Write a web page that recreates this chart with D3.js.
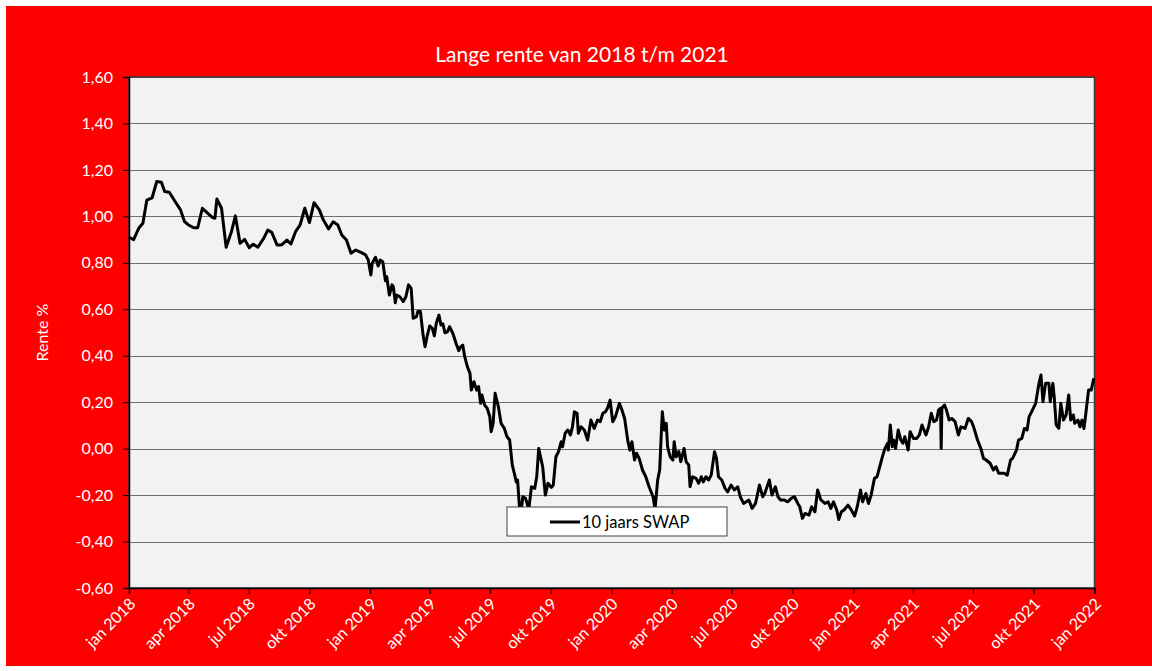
<!DOCTYPE html>
<html>
<head>
    <title>Lange rente van 2018 t/m 2021</title>
    <script src="https://d3js.org/d3.v7.min.js"></script>
    <style>
        body { margin: 0; background: #fff; }
        text { font-family: Lato, "Open Sans", sans-serif; }
    </style>
</head>
<body>
    <svg id="chart"></svg>

    <script>
        // 10 jaars SWAP, [datum, rente %]
        const swap2018 = [
            ["2018-01-01", 0.91], ["2018-01-08", 0.90], ["2018-01-16", 0.95], ["2018-01-22", 0.97],
            ["2018-01-28", 1.07], ["2018-02-05", 1.08], ["2018-02-12", 1.15], ["2018-02-19", 1.147],
            ["2018-02-24", 1.107], ["2018-03-03", 1.104], ["2018-03-12", 1.063], ["2018-03-20", 1.028],
            ["2018-03-26", 0.977], ["2018-04-01", 0.963], ["2018-04-09", 0.951], ["2018-04-15", 0.951],
            ["2018-04-22", 1.035], ["2018-04-29", 1.016], ["2018-05-07", 0.996], ["2018-05-11", 0.992],
            ["2018-05-14", 1.075], ["2018-05-21", 1.035], ["2018-05-28", 0.867], ["2018-06-05", 0.934],
            ["2018-06-11", 1.002], ["2018-06-18", 0.884], ["2018-06-25", 0.901], ["2018-07-02", 0.865],
            ["2018-07-08", 0.880], ["2018-07-15", 0.867], ["2018-07-24", 0.906], ["2018-07-30", 0.941],
            ["2018-08-05", 0.931], ["2018-08-13", 0.877], ["2018-08-20", 0.877], ["2018-08-28", 0.898],
            ["2018-09-03", 0.881], ["2018-09-10", 0.934], ["2018-09-17", 0.963], ["2018-09-24", 1.035],
            ["2018-10-01", 0.973], ["2018-10-08", 1.059], ["2018-10-16", 1.028], ["2018-10-22", 0.985],
            ["2018-10-30", 0.946], ["2018-11-06", 0.977], ["2018-11-13", 0.963], ["2018-11-19", 0.920],
            ["2018-11-26", 0.898], ["2018-12-03", 0.841], ["2018-12-10", 0.855], ["2018-12-18", 0.845],
            ["2018-12-25", 0.834], ["2018-12-29", 0.812]
        ];

        const swap2019 = [
            ["2019-01-02", 0.748], ["2019-01-04", 0.798], ["2019-01-09", 0.824], ["2019-01-13", 0.786],
            ["2019-01-16", 0.812], ["2019-01-20", 0.805], ["2019-01-24", 0.723], ["2019-01-26", 0.740],
            ["2019-01-30", 0.661], ["2019-02-03", 0.705], ["2019-02-05", 0.697], ["2019-02-08", 0.628],
            ["2019-02-10", 0.661], ["2019-02-15", 0.654], ["2019-02-20", 0.633], ["2019-02-24", 0.654],
            ["2019-02-28", 0.705], ["2019-03-04", 0.690], ["2019-03-07", 0.561], ["2019-03-12", 0.568],
            ["2019-03-14", 0.590], ["2019-03-18", 0.590], ["2019-03-22", 0.489], ["2019-03-25", 0.439],
            ["2019-03-28", 0.482], ["2019-04-01", 0.528], ["2019-04-05", 0.518], ["2019-04-08", 0.485],
            ["2019-04-11", 0.540], ["2019-04-15", 0.575], ["2019-04-18", 0.532], ["2019-04-21", 0.537],
            ["2019-04-24", 0.499], ["2019-04-28", 0.503], ["2019-05-01", 0.525], ["2019-05-06", 0.497],
            ["2019-05-11", 0.453], ["2019-05-15", 0.422], ["2019-05-18", 0.439], ["2019-05-21", 0.446],
            ["2019-05-24", 0.396], ["2019-05-28", 0.353], ["2019-06-01", 0.324], ["2019-06-03", 0.252],
            ["2019-06-07", 0.288], ["2019-06-11", 0.252], ["2019-06-14", 0.267], ["2019-06-17", 0.195],
            ["2019-06-19", 0.231], ["2019-06-23", 0.188], ["2019-06-27", 0.174], ["2019-07-01", 0.137],
            ["2019-07-03", 0.073], ["2019-07-06", 0.109], ["2019-07-09", 0.238], ["2019-07-14", 0.180],
            ["2019-07-18", 0.109], ["2019-07-23", 0.087], ["2019-07-27", 0.051], ["2019-07-31", 0.037],
            ["2019-08-04", -0.071], ["2019-08-07", -0.106], ["2019-08-10", -0.143], ["2019-08-12", -0.135],
            ["2019-08-15", -0.257], ["2019-08-17", -0.28], ["2019-08-20", -0.207], ["2019-08-24", -0.214],
            ["2019-08-29", -0.26], ["2019-09-02", -0.164], ["2019-09-07", -0.171], ["2019-09-10", -0.121],
            ["2019-09-13", 0.001], ["2019-09-16", -0.04], ["2019-09-19", -0.078], ["2019-09-23", -0.200],
            ["2019-09-27", -0.149], ["2019-10-02", -0.167], ["2019-10-05", -0.157], ["2019-10-09", -0.035],
            ["2019-10-13", -0.013], ["2019-10-17", 0.030], ["2019-10-19", 0.008], ["2019-10-23", 0.066],
            ["2019-10-27", 0.080], ["2019-10-31", 0.059], ["2019-11-03", 0.094], ["2019-11-06", 0.159],
            ["2019-11-10", 0.152], ["2019-11-12", 0.066], ["2019-11-16", 0.094], ["2019-11-21", 0.080],
            ["2019-11-26", 0.037], ["2019-12-01", 0.123], ["2019-12-06", 0.087], ["2019-12-11", 0.123],
            ["2019-12-15", 0.116], ["2019-12-19", 0.152], ["2019-12-23", 0.159], ["2019-12-26", 0.174],
            ["2019-12-30", 0.209]
        ];

        const swap2020 = [
            ["2020-01-03", 0.116], ["2020-01-07", 0.137], ["2020-01-13", 0.195], ["2020-01-17", 0.166],
            ["2020-01-21", 0.130], ["2020-01-26", 0.030], ["2020-01-29", -0.006], ["2020-02-01", 0.030],
            ["2020-02-05", -0.049], ["2020-02-08", -0.020], ["2020-02-12", -0.042], ["2020-02-17", -0.092],
            ["2020-02-22", -0.121], ["2020-02-27", -0.164], ["2020-03-04", -0.207], ["2020-03-07", -0.26],
            ["2020-03-11", -0.135], ["2020-03-14", -0.092], ["2020-03-18", 0.159], ["2020-03-21", 0.080],
            ["2020-03-24", 0.109], ["2020-03-26", 0.008], ["2020-03-30", -0.035], ["2020-04-03", -0.049],
            ["2020-04-05", 0.030], ["2020-04-08", -0.035], ["2020-04-12", -0.013], ["2020-04-15", -0.056],
            ["2020-04-20", 0.001], ["2020-04-23", -0.056], ["2020-04-27", -0.071], ["2020-04-29", -0.164],
            ["2020-05-03", -0.121], ["2020-05-08", -0.128], ["2020-05-12", -0.149], ["2020-05-16", -0.121],
            ["2020-05-19", -0.143], ["2020-05-23", -0.121], ["2020-05-27", -0.135], ["2020-05-31", -0.114],
            ["2020-06-05", -0.013], ["2020-06-08", -0.042], ["2020-06-11", -0.121], ["2020-06-16", -0.135],
            ["2020-06-21", -0.171], ["2020-06-25", -0.186], ["2020-06-30", -0.157], ["2020-07-05", -0.178],
            ["2020-07-10", -0.164], ["2020-07-14", -0.207], ["2020-07-19", -0.236], ["2020-07-27", -0.221],
            ["2020-08-01", -0.257], ["2020-08-06", -0.236], ["2020-08-12", -0.157], ["2020-08-17", -0.207],
            ["2020-08-20", -0.193], ["2020-08-27", -0.135], ["2020-08-31", -0.200], ["2020-09-05", -0.164],
            ["2020-09-09", -0.207], ["2020-09-13", -0.221], ["2020-09-18", -0.221], ["2020-09-24", -0.229],
            ["2020-09-29", -0.214], ["2020-10-04", -0.207], ["2020-10-09", -0.236], ["2020-10-12", -0.250],
            ["2020-10-16", -0.300], ["2020-10-20", -0.279], ["2020-10-26", -0.286], ["2020-10-30", -0.250],
            ["2020-11-04", -0.272], ["2020-11-08", -0.178], ["2020-11-13", -0.221], ["2020-11-19", -0.236],
            ["2020-11-24", -0.229], ["2020-11-28", -0.257], ["2020-12-02", -0.229], ["2020-12-07", -0.264],
            ["2020-12-10", -0.305], ["2020-12-14", -0.272], ["2020-12-18", -0.264], ["2020-12-24", -0.243],
            ["2020-12-29", -0.264]
        ];

        const swap2021 = [
            ["2021-01-03", -0.290], ["2021-01-07", -0.250], ["2021-01-12", -0.178], ["2021-01-15", -0.229],
            ["2021-01-20", -0.193], ["2021-01-24", -0.236], ["2021-01-28", -0.200], ["2021-02-02", -0.128],
            ["2021-02-06", -0.121], ["2021-02-10", -0.078], ["2021-02-14", -0.035], ["2021-02-18", 0.001],
            ["2021-02-22", 0.023], ["2021-02-23", -0.006], ["2021-02-26", 0.102], ["2021-03-01", 0.008],
            ["2021-03-03", 0.037], ["2021-03-06", 0.001], ["2021-03-10", 0.080], ["2021-03-14", 0.037],
            ["2021-03-17", 0.023], ["2021-03-20", 0.051], ["2021-03-25", -0.006], ["2021-03-28", 0.073],
            ["2021-04-02", 0.044], ["2021-04-07", 0.044], ["2021-04-11", 0.059], ["2021-04-15", 0.102],
            ["2021-04-21", 0.059], ["2021-04-25", 0.094], ["2021-04-29", 0.152], ["2021-05-03", 0.116],
            ["2021-05-07", 0.123], ["2021-05-10", 0.166], ["2021-05-13", 0.174], ["2021-05-14", 0.001],
            ["2021-05-15", 0.174], ["2021-05-19", 0.188], ["2021-05-22", 0.166], ["2021-05-26", 0.123],
            ["2021-05-30", 0.130], ["2021-06-04", 0.116], ["2021-06-09", 0.059], ["2021-06-13", 0.094],
            ["2021-06-19", 0.087], ["2021-06-24", 0.130], ["2021-06-29", 0.116], ["2021-07-02", 0.094],
            ["2021-07-08", 0.037], ["2021-07-13", 0.001], ["2021-07-17", -0.042], ["2021-07-21", -0.049],
            ["2021-07-27", -0.063], ["2021-08-01", -0.092], ["2021-08-05", -0.078], ["2021-08-09", -0.106],
            ["2021-08-17", -0.106], ["2021-08-22", -0.114], ["2021-08-27", -0.049], ["2021-08-30", -0.042],
            ["2021-09-05", -0.006], ["2021-09-08", 0.037], ["2021-09-13", 0.044], ["2021-09-17", 0.087],
            ["2021-09-21", 0.080], ["2021-09-24", 0.137], ["2021-09-29", 0.166], ["2021-10-04", 0.195],
            ["2021-10-09", 0.281], ["2021-10-12", 0.317], ["2021-10-15", 0.202], ["2021-10-19", 0.281],
            ["2021-10-24", 0.281], ["2021-10-26", 0.202], ["2021-10-30", 0.281], ["2021-11-01", 0.224],
            ["2021-11-04", 0.102], ["2021-11-08", 0.087], ["2021-11-11", 0.195], ["2021-11-15", 0.123],
            ["2021-11-19", 0.145], ["2021-11-23", 0.231], ["2021-11-26", 0.123], ["2021-11-30", 0.145],
            ["2021-12-02", 0.109], ["2021-12-07", 0.123], ["2021-12-10", 0.094], ["2021-12-13", 0.123],
            ["2021-12-16", 0.087], ["2021-12-18", 0.130], ["2021-12-23", 0.252], ["2021-12-27", 0.252],
            ["2021-12-31", 0.303]
        ];

        const yTicks = [-0.6, -0.4, -0.2, 0, 0.2, 0.4, 0.6, 0.8, 1.0, 1.2, 1.4, 1.6];
        const xTickDates = [
            "2018-01-01", "2018-04-01", "2018-07-01", "2018-10-01",
            "2019-01-01", "2019-04-01", "2019-07-01", "2019-10-01",
            "2020-01-01", "2020-04-01", "2020-07-01", "2020-10-01",
            "2021-01-01", "2021-04-01", "2021-07-01", "2021-10-01",
            "2022-01-01"
        ];
        const monthNames = ["jan", "feb", "mrt", "apr", "mei", "jun", "jul", "aug", "sep", "okt", "nov", "dec"];

        const title = "Lange rente van 2018 t/m 2021";
        const yTitle = "Rente %";
        const seriesName = "10 jaars SWAP";

        const width = 1152;
        const height = 671;
        const plot = { left: 129, top: 77, right: 1094.5, bottom: 588 };

        const parse = d3.timeParse("%Y-%m-%d");
        const data = [...swap2018, ...swap2019, ...swap2020, ...swap2021]
            .map(([d, v]) => ({ date: parse(d), value: v }));

        const nl = d3.formatLocale({ decimal: ",", thousands: ".", grouping: [3], currency: ["€", ""], minus: "-" });
        const fmt = nl.format(".2f");

        const svg = d3.select("#chart")
            .attr("width", width)
            .attr("height", height);

        // red chart area
        svg.append("rect")
            .attr("x", 6).attr("y", 6)
            .attr("width", width - 6).attr("height", height - 11)
            .attr("fill", "#ff0000");

        const x = d3.scaleTime()
            .domain([parse("2018-01-01"), parse("2022-01-01")])
            .range([plot.left, plot.right]);

        const y = d3.scaleLinear()
            .domain([-0.6, 1.6])
            .range([plot.bottom, plot.top]);

        svg.append("rect")
            .attr("x", plot.left).attr("y", plot.top)
            .attr("width", plot.right - plot.left)
            .attr("height", plot.bottom - plot.top)
            .attr("fill", "#f2f2f2");

        // gridlines
        svg.append("g")
            .selectAll("line")
            .data(yTicks)
            .join("line")
            .attr("x1", plot.left).attr("x2", plot.right)
            .attr("y1", d => Math.round(y(d)) + 0.5).attr("y2", d => Math.round(y(d)) + 0.5)
            .attr("stroke", "#6e6e6e")
            .attr("stroke-width", 1);

        svg.append("rect")
            .attr("x", plot.left).attr("y", plot.top)
            .attr("width", plot.right - plot.left)
            .attr("height", plot.bottom - plot.top)
            .attr("fill", "none")
            .attr("stroke", "#3a3a3a")
            .attr("stroke-width", 1.5);

        // y axis
        const yAxis = svg.append("g")
            .attr("transform", `translate(${plot.left},0)`)
            .call(d3.axisLeft(y).tickValues(yTicks).tickFormat(fmt).tickSize(6).tickPadding(10));
        yAxis.select(".domain").attr("stroke", "#000").attr("stroke-width", 1.5);
        yAxis.selectAll(".tick line").attr("stroke", "#000");
        yAxis.selectAll("text")
            .attr("fill", "#fff")
            .style("font-size", "16px");

        // x axis
        const xAxis = svg.append("g")
            .attr("transform", `translate(0,${plot.bottom})`)
            .call(d3.axisBottom(x)
                .tickValues(xTickDates.map(parse))
                .tickFormat(d => `${monthNames[d.getMonth()]} ${d.getFullYear()}`)
                .tickSize(6));
        xAxis.select(".domain").attr("stroke", "#000").attr("stroke-width", 1.5);
        xAxis.selectAll(".tick line").attr("stroke", "#000");
        xAxis.selectAll("text")
            .attr("fill", "#fff")
            .style("font-size", "16px")
            .attr("text-anchor", "end")
            .attr("x", 0).attr("y", 0).attr("dy", 0)
            .attr("transform", "translate(7,17) rotate(-45)");

        // line
        const line = d3.line()
            .x(d => x(d.date))
            .y(d => y(d.value));

        svg.append("path")
            .datum(data)
            .attr("d", line)
            .attr("fill", "none")
            .attr("stroke", "#000")
            .attr("stroke-width", 3)
            .attr("stroke-linejoin", "round");

        // legend
        const legend = svg.append("g").attr("transform", "translate(507,507)");
        legend.append("rect")
            .attr("width", 220).attr("height", 29)
            .attr("fill", "#fff")
            .attr("stroke", "#404040")
            .attr("stroke-width", 1);
        legend.append("line")
            .attr("x1", 43).attr("x2", 73)
            .attr("y1", 15).attr("y2", 15)
            .attr("stroke", "#000")
            .attr("stroke-width", 3);
        legend.append("text")
            .attr("x", 75).attr("y", 20.5)
            .style("font-size", "16.5px")
            .attr("fill", "#000")
            .text(seriesName);

        // titles
        svg.append("text")
            .attr("x", 582).attr("y", 62)
            .attr("text-anchor", "middle")
            .attr("fill", "#fff")
            .style("font-size", "21px")
            .text(title);

        svg.append("text")
            .attr("transform", `translate(48,${(plot.top + plot.bottom) / 2}) rotate(-90)`)
            .attr("text-anchor", "middle")
            .attr("fill", "#fff")
            .style("font-size", "16px")
            .text(yTitle);
    </script>
</body>
</html>
